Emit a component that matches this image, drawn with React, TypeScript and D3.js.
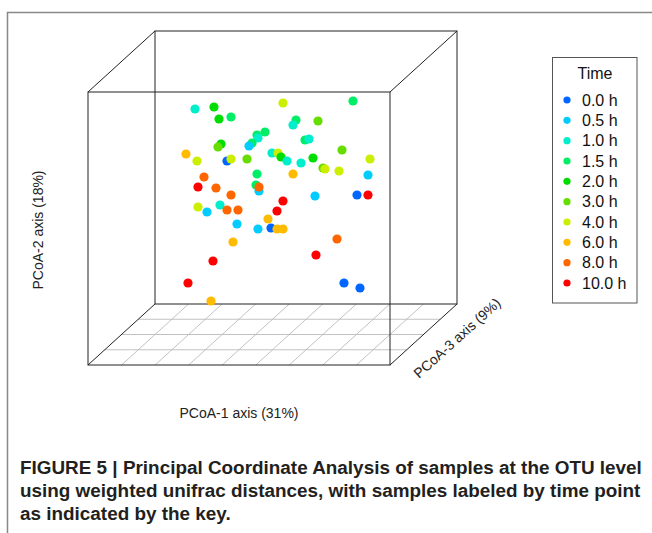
import * as d3 from 'd3';
import React from 'react';

// time points (legend) and their colours
const timeLabels = ['0.0 h', '0.5 h', '1.0 h', '1.5 h', '2.0 h', '3.0 h', '4.0 h', '6.0 h', '8.0 h', '10.0 h'];
const timeColors = ['#0066FF', '#00CCFF', '#00EECC', '#00EE66', '#00DD00', '#66DD00', '#CCEE00', '#FFBB00', '#FF6600', '#FF0000'];

// projected PCoA scores of each sample, and the index of its time point
const pc1 = [-0.43, -0.24, -0.19, -0.07, 0.45, 1.15, 0.58, 0.55, 0.80, 0.27, 0.19, 0.20, 0.14, 0.11, -0.17, -0.20,
  0.67, 0.71, -0.52, -0.41, -0.11, -0.07, 0.09, 0.34, 0.40, 0.43, 0.49, 0.63, 0.75, 1.04, 1.32, 0.85, 0.87, 1.01,
  0.55, 1.30, 0.19, -0.34, -0.40, -0.22, -0.07, 0.18, 0.21, 0.21, 0.77, 1.19, 1.30, 0.45, 0.39, -0.40, -0.31,
  -0.18, -0.11, 0.00, -0.01, 0.30, 0.20, 0.33, 0.39, 0.45, -0.05, 0.99, -0.25, 0.78, -0.50, 1.06, 1.22, -0.27];
const pc2 = [1.36, 1.38, 1.26, 1.28, 1.42, 1.44, 1.25, 1.20, 1.24, 1.13, 1.10, 1.07, 1.02, 0.99, 1.01, 0.98,
  1.05, 1.06, 0.91, 0.84, 0.84, 0.86, 0.86, 0.92, 0.92, 0.88, 0.84, 0.82, 0.87, 0.95, 0.86, 0.77, 0.76, 0.74,
  0.71, 0.70, 0.71, 0.68, 0.58, 0.57, 0.50, 0.60, 0.54, 0.58, 0.49, 0.50, 0.50, 0.44, 0.34, 0.38, 0.33,
  0.40, 0.35, 0.35, 0.21, 0.26, 0.16, 0.17, 0.16, 0.16, 0.03, 0.06, -0.16, -0.10, -0.38, -0.38, -0.43, -0.56];
const group = [2, 4, 4, 3, 6, 3, 3, 2, 5, 3, 3, 2, 3, 1, 4, 5,
  3, 2, 7, 6, 0, 6, 5, 2, 6, 4, 2, 2, 4, 5, 6, 5, 6, 6,
  7, 1, 3, 8, 9, 8, 8, 3, 1, 8, 1, 0, 9, 9, 9, 6, 1,
  2, 8, 8, 1, 7, 1, 0, 7, 7, 7, 8, 9, 9, 9, 0, 0, 7];

const W = 652;
const H = 533;
const font = '"Liberation Sans", Arial, Helvetica, sans-serif';

export default function App() {
  // front face of the box
  const front = { x0: 88, x1: 390, y0: 92, y1: 365 };
  const depth = { dx: 67, dy: -61 };

  const x = d3.scaleLinear().domain([-1.5, 1.52]).range([front.x0, front.x1]);
  const y = d3.scaleLinear().domain([-1.2, 1.53]).range([front.y1, front.y0]);

  const back = { x0: front.x0 + depth.dx, x1: front.x1 + depth.dx, y0: front.y0 + depth.dy, y1: front.y1 + depth.dy };

  // floor grid: 9 divisions across, 4 in depth
  const across = d3.range(1, 9).map(i => front.x0 + (i * (front.x1 - front.x0)) / 9);
  const deep = d3.range(1, 4).map(i => i / 4);

  const legendY = d3.scaleLinear().domain([0, 9]).range([100, 283]);

  return (
    <svg width={W} height={H} style={{ position: 'absolute', left: 0, top: 0 }}>
      <rect width={W} height={H} fill="#fff" />
      {/* outer frame */}
      <path d={`M7.5,${H} V12.5 H${W}`} fill="none" stroke="#888" strokeWidth={1.5} />

      {/* floor grid */}
      <g stroke="#bbb" strokeWidth={0.9}>
        {across.map((ax, i) => (
          <line key={'a' + i} x1={ax} y1={front.y1} x2={ax + depth.dx} y2={front.y1 + depth.dy} />
        ))}
        {deep.map((f, i) => (
          <line key={'d' + i} x1={front.x0 + f * depth.dx} y1={front.y1 + f * depth.dy}
            x2={front.x1 + f * depth.dx} y2={front.y1 + f * depth.dy} />
        ))}
      </g>

      {/* box */}
      <g stroke="#222" strokeWidth={1} fill="none">
        <rect x={back.x0} y={back.y0} width={back.x1 - back.x0} height={back.y1 - back.y0} />
        <rect x={front.x0} y={front.y0} width={front.x1 - front.x0} height={front.y1 - front.y0} />
        <line x1={front.x0} y1={front.y0} x2={back.x0} y2={back.y0} />
        <line x1={front.x1} y1={front.y0} x2={back.x1} y2={back.y0} />
        <line x1={front.x0} y1={front.y1} x2={back.x0} y2={back.y1} />
        <line x1={front.x1} y1={front.y1} x2={back.x1} y2={back.y1} />
      </g>

      {/* samples */}
      {pc1.map((v, i) => (
        <circle key={i} cx={x(v)} cy={y(pc2[i])} r={4.6} fill={timeColors[group[i]]} />
      ))}

      {/* axis labels */}
      <g fontFamily={font} fontSize={14} fill="#222">
        <text x={239} y={413} textAnchor="middle" dominantBaseline="central">PCoA-1 axis (31%)</text>
        <text transform="translate(38,230) rotate(-90)" textAnchor="middle" dominantBaseline="central">PCoA-2 axis (18%)</text>
        <text transform="translate(457,338) rotate(-42)" textAnchor="middle" dominantBaseline="central">PCoA-3 axis (9%)</text>
      </g>

      {/* legend */}
      <g fontFamily={font} fontSize={16} fill="#111">
        <rect x={552.5} y={57.5} width={84.5} height={245.5} fill="#fff" stroke="#555" />
        <text x={595} y={73} textAnchor="middle" dominantBaseline="central">Time</text>
        {timeLabels.map((t, i) => (
          <g key={t}>
            <circle cx={567} cy={legendY(i)} r={3.6} fill={timeColors[i]} />
            <text x={582} y={legendY(i)} dominantBaseline="central">{t}</text>
          </g>
        ))}
      </g>

      {/* caption */}
      <g fontFamily={font} fontSize={18.9} fontWeight="bold" fill="#231f20">
        <text x={20} y={474}>FIGURE 5 | Principal Coordinate Analysis of samples at the OTU level</text>
        <text x={20} y={497}>using weighted unifrac distances, with samples labeled by time point</text>
        <text x={20} y={520}>as indicated by the key.</text>
      </g>
    </svg>
  );
}
